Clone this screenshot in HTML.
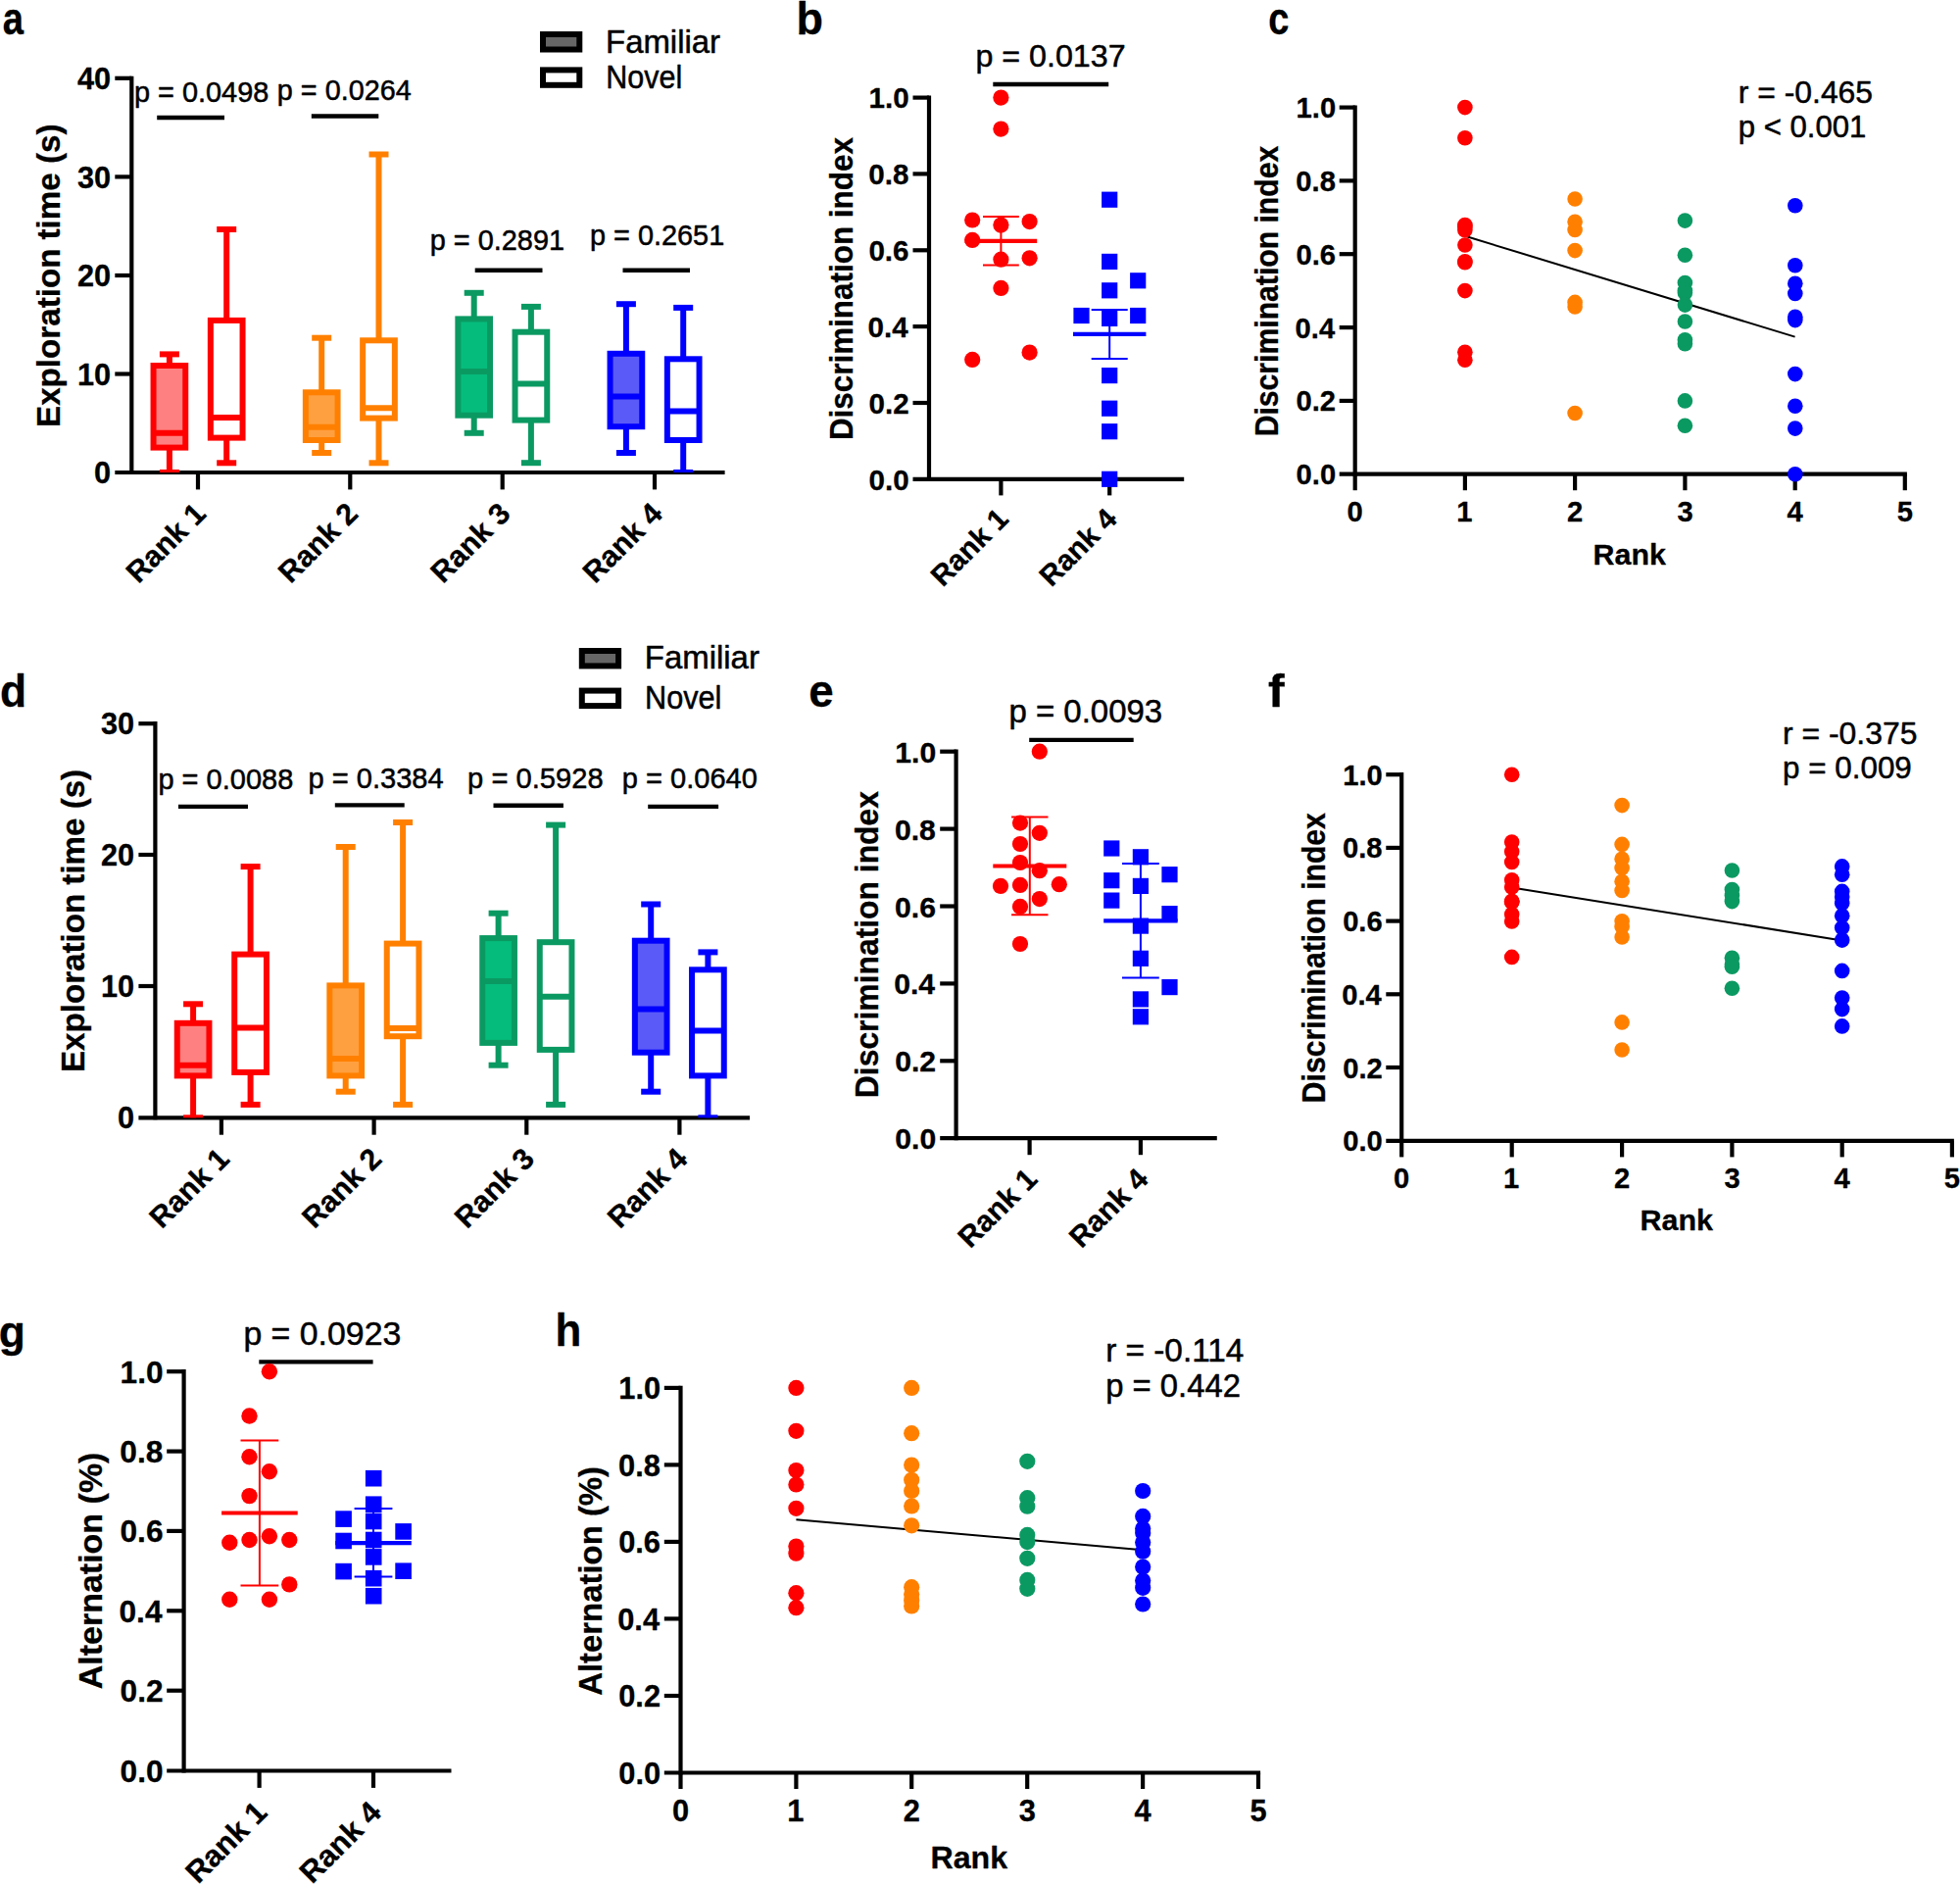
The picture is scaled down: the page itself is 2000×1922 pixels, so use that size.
<!DOCTYPE html>
<html lang="en">
<head>
<meta charset="utf-8">
<title>Figure</title>
<style>
html,body{margin:0;padding:0;background:#fff;}
body{width:2000px;height:1922px;overflow:hidden;}
svg{display:block;}
svg text{font-family:"Liberation Sans",sans-serif;fill:#000;stroke:#000;stroke-width:0.5px;stroke-linejoin:round;}
svg text[font-weight="700"]{stroke-width:0.3px;}
</style>
</head>
<body>
<svg width="2000" height="1922" viewBox="0 0 2000 1922">
<rect x="0" y="0" width="2000" height="1922" fill="#fff"/>
<text font-size="45.8" font-weight="700" textLength="21.31" lengthAdjust="spacingAndGlyphs" x="2.65" y="34.8">a</text>
<line x1="134.3" y1="77.7" x2="134.3" y2="484" stroke="#000" stroke-width="4.2"/>
<line x1="117.3" y1="482" x2="739.6" y2="482" stroke="#000" stroke-width="4.2"/>
<line x1="117.3" y1="79.8" x2="134.3" y2="79.8" stroke="#000" stroke-width="4.2"/>
<line x1="117.3" y1="180.4" x2="134.3" y2="180.4" stroke="#000" stroke-width="4.2"/>
<line x1="117.3" y1="281" x2="134.3" y2="281" stroke="#000" stroke-width="4.2"/>
<line x1="117.3" y1="381.5" x2="134.3" y2="381.5" stroke="#000" stroke-width="4.2"/>
<line x1="202" y1="482" x2="202" y2="499.4" stroke="#000" stroke-width="4.2"/>
<line x1="357.3" y1="482" x2="357.3" y2="499.4" stroke="#000" stroke-width="4.2"/>
<line x1="512.7" y1="482" x2="512.7" y2="499.4" stroke="#000" stroke-width="4.2"/>
<line x1="668" y1="482" x2="668" y2="499.4" stroke="#000" stroke-width="4.2"/>
<text font-size="30.7" font-weight="700" text-anchor="end" x="113.2" y="90.9">40</text>
<text font-size="30.7" font-weight="700" text-anchor="end" x="113.2" y="191.5">30</text>
<text font-size="30.7" font-weight="700" text-anchor="end" x="113.2" y="292.1">20</text>
<text font-size="30.7" font-weight="700" text-anchor="end" x="113.2" y="392.6">10</text>
<text font-size="30.7" font-weight="700" text-anchor="end" x="113.16" y="493.1">0</text>
<text font-size="30.4" font-weight="700" text-anchor="end" transform="translate(211.7 525.8) rotate(-45)">Rank 1</text>
<text font-size="30.4" font-weight="700" text-anchor="end" transform="translate(367 525.8) rotate(-45)">Rank 2</text>
<text font-size="30.4" font-weight="700" text-anchor="end" transform="translate(522.4 525.8) rotate(-45)">Rank 3</text>
<text font-size="30.4" font-weight="700" text-anchor="end" transform="translate(677.7 525.8) rotate(-45)">Rank 4</text>
<text font-size="34" font-weight="700" textLength="309.39" lengthAdjust="spacingAndGlyphs" transform="translate(61 435.94) rotate(-90)">Exploration time (s)</text>
<rect x="554" y="35" width="37.3" height="15.5" fill="#666" stroke="#000" stroke-width="6"/>
<rect x="554" y="71.4" width="37.3" height="15.4" fill="#fff" stroke="#000" stroke-width="6"/>
<text font-size="32.8" textLength="116.93" lengthAdjust="spacingAndGlyphs" x="618.09" y="53.5">Familiar</text>
<text font-size="32.8" textLength="77.95" lengthAdjust="spacingAndGlyphs" x="618.28" y="89.8">Novel</text>
<text font-size="28.89" textLength="137.37" lengthAdjust="spacingAndGlyphs" x="136.92" y="104">p = 0.0498</text>
<text font-size="28.78" textLength="136.82" lengthAdjust="spacingAndGlyphs" x="282.83" y="101.5">p = 0.0264</text>
<text font-size="28.89" textLength="137.36" lengthAdjust="spacingAndGlyphs" x="438.72" y="254.6">p = 0.2891</text>
<text font-size="28.85" textLength="137.16" lengthAdjust="spacingAndGlyphs" x="602.02" y="249.5">p = 0.2651</text>
<line x1="160.2" y1="120" x2="229" y2="120" stroke="#000" stroke-width="4.4"/>
<line x1="317.8" y1="118.5" x2="386.3" y2="118.5" stroke="#000" stroke-width="4.4"/>
<line x1="484.7" y1="275.7" x2="553.5" y2="275.7" stroke="#000" stroke-width="4.4"/>
<line x1="635.5" y1="275.7" x2="704" y2="275.7" stroke="#000" stroke-width="4.4"/>
<line x1="172.9" y1="361.4" x2="172.9" y2="371" stroke="#fe0000" stroke-width="6"/>
<line x1="172.9" y1="458.6" x2="172.9" y2="482" stroke="#fe0000" stroke-width="6"/>
<rect x="162.9" y="479" width="20" height="3" fill="#fe0000"/>
<line x1="162.9" y1="361.4" x2="182.9" y2="361.4" stroke="#fe0000" stroke-width="6"/>
<rect x="156.55" y="373" width="32.7" height="83.6" fill="#ff8080" stroke="#fe0000" stroke-width="6"/>
<line x1="154.55" y1="441.8" x2="191.25" y2="441.8" stroke="#fe0000" stroke-width="6"/>
<line x1="231.2" y1="234" x2="231.2" y2="324.9" stroke="#fe0000" stroke-width="6"/>
<line x1="231.2" y1="448.6" x2="231.2" y2="472.3" stroke="#fe0000" stroke-width="6"/>
<line x1="221.2" y1="472.3" x2="241.2" y2="472.3" stroke="#fe0000" stroke-width="6"/>
<line x1="221.2" y1="234" x2="241.2" y2="234" stroke="#fe0000" stroke-width="6"/>
<rect x="214.85" y="326.9" width="32.7" height="119.7" fill="#fff" stroke="#fe0000" stroke-width="6"/>
<line x1="212.85" y1="426" x2="249.55" y2="426" stroke="#fe0000" stroke-width="6"/>
<line x1="328.2" y1="344.7" x2="328.2" y2="398.3" stroke="#ff8000" stroke-width="6"/>
<line x1="328.2" y1="451" x2="328.2" y2="462" stroke="#ff8000" stroke-width="6"/>
<line x1="318.2" y1="462" x2="338.2" y2="462" stroke="#ff8000" stroke-width="6"/>
<line x1="318.2" y1="344.7" x2="338.2" y2="344.7" stroke="#ff8000" stroke-width="6"/>
<rect x="311.85" y="400.3" width="32.7" height="48.7" fill="#ffa040" stroke="#ff8000" stroke-width="6"/>
<line x1="309.85" y1="435.7" x2="346.55" y2="435.7" stroke="#ff8000" stroke-width="6"/>
<line x1="386.5" y1="157.5" x2="386.5" y2="345.3" stroke="#ff8000" stroke-width="6"/>
<line x1="386.5" y1="428.6" x2="386.5" y2="472.3" stroke="#ff8000" stroke-width="6"/>
<line x1="376.5" y1="472.3" x2="396.5" y2="472.3" stroke="#ff8000" stroke-width="6"/>
<line x1="376.5" y1="157.5" x2="396.5" y2="157.5" stroke="#ff8000" stroke-width="6"/>
<rect x="370.15" y="347.3" width="32.7" height="79.3" fill="#fff" stroke="#ff8000" stroke-width="6"/>
<line x1="368.15" y1="416.3" x2="404.85" y2="416.3" stroke="#ff8000" stroke-width="6"/>
<line x1="483.7" y1="298.8" x2="483.7" y2="323.4" stroke="#0b9962" stroke-width="6"/>
<line x1="483.7" y1="425.7" x2="483.7" y2="441.8" stroke="#0b9962" stroke-width="6"/>
<line x1="473.7" y1="441.8" x2="493.7" y2="441.8" stroke="#0b9962" stroke-width="6"/>
<line x1="473.7" y1="298.8" x2="493.7" y2="298.8" stroke="#0b9962" stroke-width="6"/>
<rect x="467.35" y="325.4" width="32.7" height="98.3" fill="#05bc7c" stroke="#0b9962" stroke-width="6"/>
<line x1="465.35" y1="379" x2="502.05" y2="379" stroke="#0b9962" stroke-width="6"/>
<line x1="541.9" y1="312.9" x2="541.9" y2="336.7" stroke="#0b9962" stroke-width="6"/>
<line x1="541.9" y1="430.6" x2="541.9" y2="472.2" stroke="#0b9962" stroke-width="6"/>
<line x1="531.9" y1="472.2" x2="551.9" y2="472.2" stroke="#0b9962" stroke-width="6"/>
<line x1="531.9" y1="312.9" x2="551.9" y2="312.9" stroke="#0b9962" stroke-width="6"/>
<rect x="525.55" y="338.7" width="32.7" height="89.9" fill="#fff" stroke="#0b9962" stroke-width="6"/>
<line x1="523.55" y1="391.6" x2="560.25" y2="391.6" stroke="#0b9962" stroke-width="6"/>
<line x1="638.9" y1="310.2" x2="638.9" y2="358.8" stroke="#0000fe" stroke-width="6"/>
<line x1="638.9" y1="437.2" x2="638.9" y2="462" stroke="#0000fe" stroke-width="6"/>
<line x1="628.9" y1="462" x2="648.9" y2="462" stroke="#0000fe" stroke-width="6"/>
<line x1="628.9" y1="310.2" x2="648.9" y2="310.2" stroke="#0000fe" stroke-width="6"/>
<rect x="622.55" y="360.8" width="32.7" height="74.4" fill="#5a5af8" stroke="#0000fe" stroke-width="6"/>
<line x1="620.55" y1="404.5" x2="657.25" y2="404.5" stroke="#0000fe" stroke-width="6"/>
<line x1="697.2" y1="313.9" x2="697.2" y2="364.3" stroke="#0000fe" stroke-width="6"/>
<line x1="697.2" y1="451" x2="697.2" y2="482" stroke="#0000fe" stroke-width="6"/>
<rect x="687.2" y="479" width="20" height="3" fill="#0000fe"/>
<line x1="687.2" y1="313.9" x2="707.2" y2="313.9" stroke="#0000fe" stroke-width="6"/>
<rect x="680.85" y="366.3" width="32.7" height="82.7" fill="#fff" stroke="#0000fe" stroke-width="6"/>
<line x1="678.85" y1="419.4" x2="715.55" y2="419.4" stroke="#0000fe" stroke-width="6"/>
<text font-size="46.5" font-weight="700" textLength="27.46" lengthAdjust="spacingAndGlyphs" x="812.38" y="34.9">b</text>
<line x1="948" y1="97.5" x2="948" y2="490.8" stroke="#000" stroke-width="4.2"/>
<line x1="931.5" y1="488.8" x2="1208.2" y2="488.8" stroke="#000" stroke-width="4.2"/>
<line x1="931.5" y1="99.6" x2="948" y2="99.6" stroke="#000" stroke-width="4.2"/>
<line x1="931.5" y1="177.4" x2="948" y2="177.4" stroke="#000" stroke-width="4.2"/>
<line x1="931.5" y1="255.3" x2="948" y2="255.3" stroke="#000" stroke-width="4.2"/>
<line x1="931.5" y1="333.1" x2="948" y2="333.1" stroke="#000" stroke-width="4.2"/>
<line x1="931.5" y1="411" x2="948" y2="411" stroke="#000" stroke-width="4.2"/>
<line x1="1021.4" y1="488.8" x2="1021.4" y2="505.4" stroke="#000" stroke-width="4.2"/>
<line x1="1132.2" y1="488.8" x2="1132.2" y2="505.4" stroke="#000" stroke-width="4.2"/>
<text font-size="29.6" font-weight="700" text-anchor="end" x="927.69" y="110.3">1.0</text>
<text font-size="29.6" font-weight="700" text-anchor="end" x="927.39" y="188.1">0.8</text>
<text font-size="29.6" font-weight="700" text-anchor="end" x="927.54" y="266">0.6</text>
<text font-size="29.6" font-weight="700" text-anchor="end" x="926.65" y="343.8">0.4</text>
<text font-size="29.6" font-weight="700" text-anchor="end" x="927.62" y="421.7">0.2</text>
<text font-size="29.6" font-weight="700" text-anchor="end" x="927.69" y="499.5">0.0</text>
<text font-size="34" font-weight="700" textLength="308.98" lengthAdjust="spacingAndGlyphs" transform="translate(869.6 449.12) rotate(-90)">Discrimination index</text>
<text font-size="32.19" textLength="153.07" lengthAdjust="spacingAndGlyphs" x="995.51" y="67.9">p = 0.0137</text>
<line x1="1013.3" y1="86" x2="1131.2" y2="86" stroke="#000" stroke-width="4.4"/>
<line x1="984.6" y1="245.9" x2="1058.2" y2="245.9" stroke="#fe0000" stroke-width="4.2"/>
<line x1="1021.4" y1="221" x2="1021.4" y2="270.6" stroke="#fe0000" stroke-width="2"/>
<line x1="1003" y1="221" x2="1039.8" y2="221" stroke="#fe0000" stroke-width="2"/>
<line x1="1003" y1="270.6" x2="1039.8" y2="270.6" stroke="#fe0000" stroke-width="2"/>
<circle cx="1021.4" cy="99.6" r="8.1" fill="#fe0000"/>
<circle cx="1021.4" cy="131.6" r="8.1" fill="#fe0000"/>
<circle cx="992.2" cy="224.5" r="8.1" fill="#fe0000"/>
<circle cx="1021.4" cy="229.6" r="8.1" fill="#fe0000"/>
<circle cx="1050.6" cy="226.1" r="8.1" fill="#fe0000"/>
<circle cx="992.2" cy="244.9" r="8.1" fill="#fe0000"/>
<circle cx="1021.4" cy="264.7" r="8.1" fill="#fe0000"/>
<circle cx="1050.6" cy="263.3" r="8.1" fill="#fe0000"/>
<circle cx="1021.4" cy="293.9" r="8.1" fill="#fe0000"/>
<circle cx="992.2" cy="366.9" r="8.1" fill="#fe0000"/>
<circle cx="1050.6" cy="359.6" r="8.1" fill="#fe0000"/>
<rect x="1124.1" y="195.6" width="16.2" height="16.2" fill="#0000fe"/>
<rect x="1124.1" y="258.8" width="16.2" height="16.2" fill="#0000fe"/>
<rect x="1153.1" y="278.2" width="16.2" height="16.2" fill="#0000fe"/>
<rect x="1124.1" y="288.2" width="16.2" height="16.2" fill="#0000fe"/>
<rect x="1095.4" y="313.9" width="16.2" height="16.2" fill="#0000fe"/>
<rect x="1124.1" y="316.8" width="16.2" height="16.2" fill="#0000fe"/>
<rect x="1153.1" y="313.9" width="16.2" height="16.2" fill="#0000fe"/>
<rect x="1124.1" y="375" width="16.2" height="16.2" fill="#0000fe"/>
<rect x="1124.1" y="408.6" width="16.2" height="16.2" fill="#0000fe"/>
<rect x="1124.1" y="432.1" width="16.2" height="16.2" fill="#0000fe"/>
<rect x="1124.1" y="480.7" width="16.2" height="16.2" fill="#0000fe"/>
<line x1="1095" y1="340.8" x2="1169.4" y2="340.8" stroke="#0000fe" stroke-width="4.2"/>
<line x1="1132.2" y1="315.9" x2="1132.2" y2="366.1" stroke="#0000fe" stroke-width="2"/>
<line x1="1113.7" y1="315.9" x2="1150.7" y2="315.9" stroke="#0000fe" stroke-width="2"/>
<line x1="1113.7" y1="366.1" x2="1150.7" y2="366.1" stroke="#0000fe" stroke-width="2"/>
<text font-size="29.6" font-weight="700" text-anchor="end" transform="translate(1030.6 531.1) rotate(-45)">Rank 1</text>
<text font-size="29.6" font-weight="700" text-anchor="end" transform="translate(1141.4 531.1) rotate(-45)">Rank 4</text>
<text font-size="45.8" font-weight="700" textLength="21.11" lengthAdjust="spacingAndGlyphs" x="1294.28" y="34.8">c</text>
<line x1="1382.7" y1="107.5" x2="1382.7" y2="485.7" stroke="#000" stroke-width="4.2"/>
<line x1="1366.7" y1="483.7" x2="1945.9" y2="483.7" stroke="#000" stroke-width="4.2"/>
<line x1="1366.7" y1="109.6" x2="1382.7" y2="109.6" stroke="#000" stroke-width="4.2"/>
<line x1="1366.7" y1="184.4" x2="1382.7" y2="184.4" stroke="#000" stroke-width="4.2"/>
<line x1="1366.7" y1="259.2" x2="1382.7" y2="259.2" stroke="#000" stroke-width="4.2"/>
<line x1="1366.7" y1="334.1" x2="1382.7" y2="334.1" stroke="#000" stroke-width="4.2"/>
<line x1="1366.7" y1="408.9" x2="1382.7" y2="408.9" stroke="#000" stroke-width="4.2"/>
<line x1="1382.7" y1="483.7" x2="1382.7" y2="500.2" stroke="#000" stroke-width="4.2"/>
<line x1="1494.9" y1="483.7" x2="1494.9" y2="500.2" stroke="#000" stroke-width="4.2"/>
<line x1="1607.1" y1="483.7" x2="1607.1" y2="500.2" stroke="#000" stroke-width="4.2"/>
<line x1="1719.4" y1="483.7" x2="1719.4" y2="500.2" stroke="#000" stroke-width="4.2"/>
<line x1="1831.7" y1="483.7" x2="1831.7" y2="500.2" stroke="#000" stroke-width="4.2"/>
<line x1="1943.8" y1="483.7" x2="1943.8" y2="500.2" stroke="#000" stroke-width="4.2"/>
<text font-size="29.2" font-weight="700" text-anchor="end" x="1363.17" y="120.1">1.0</text>
<text font-size="29.2" font-weight="700" text-anchor="end" x="1362.88" y="194.9">0.8</text>
<text font-size="29.2" font-weight="700" text-anchor="end" x="1363.03" y="269.7">0.6</text>
<text font-size="29.2" font-weight="700" text-anchor="end" x="1362.15" y="344.6">0.4</text>
<text font-size="29.2" font-weight="700" text-anchor="end" x="1363.1" y="419.4">0.2</text>
<text font-size="29.2" font-weight="700" text-anchor="end" x="1363.17" y="494.2">0.0</text>
<text font-size="29.2" font-weight="700" text-anchor="middle" x="1382.72" y="531.5">0</text>
<text font-size="29.2" font-weight="700" text-anchor="middle" x="1494.41" y="531.5">1</text>
<text font-size="29.2" font-weight="700" text-anchor="middle" x="1607.15" y="531.5">2</text>
<text font-size="29.2" font-weight="700" text-anchor="middle" x="1719.6" y="531.5">3</text>
<text font-size="29.2" font-weight="700" text-anchor="middle" x="1831.57" y="531.5">4</text>
<text font-size="29.2" font-weight="700" text-anchor="middle" x="1943.78" y="531.5">5</text>
<text font-size="33" font-weight="700" textLength="296.59" lengthAdjust="spacingAndGlyphs" transform="translate(1304.3 445.34) rotate(-90)">Discrimination index</text>
<line x1="1494.9" y1="240.8" x2="1831.6" y2="343.6" stroke="#000" stroke-width="2"/>
<circle cx="1494.9" cy="109.6" r="7.8" fill="#fe0000"/>
<circle cx="1494.9" cy="140.8" r="7.8" fill="#fe0000"/>
<circle cx="1494.9" cy="229.6" r="7.8" fill="#fe0000"/>
<circle cx="1494.9" cy="231.5" r="7.8" fill="#fe0000"/>
<circle cx="1494.9" cy="234.7" r="7.8" fill="#fe0000"/>
<circle cx="1494.9" cy="250" r="7.8" fill="#fe0000"/>
<circle cx="1494.9" cy="267.8" r="7.8" fill="#fe0000"/>
<circle cx="1494.9" cy="266.8" r="7.8" fill="#fe0000"/>
<circle cx="1494.9" cy="296.6" r="7.8" fill="#fe0000"/>
<circle cx="1494.9" cy="359.2" r="7.8" fill="#fe0000"/>
<circle cx="1494.9" cy="367.3" r="7.8" fill="#fe0000"/>
<circle cx="1607.1" cy="203" r="7.8" fill="#ff8000"/>
<circle cx="1607.1" cy="226.3" r="7.8" fill="#ff8000"/>
<circle cx="1607.1" cy="234.5" r="7.8" fill="#ff8000"/>
<circle cx="1607.1" cy="255.6" r="7.8" fill="#ff8000"/>
<circle cx="1607.1" cy="308.4" r="7.8" fill="#ff8000"/>
<circle cx="1607.1" cy="313" r="7.8" fill="#ff8000"/>
<circle cx="1607.1" cy="421.5" r="7.8" fill="#ff8000"/>
<circle cx="1719.4" cy="225.1" r="7.8" fill="#0b9962"/>
<circle cx="1719.4" cy="260.2" r="7.8" fill="#0b9962"/>
<circle cx="1719.4" cy="288.5" r="7.8" fill="#0b9962"/>
<circle cx="1719.4" cy="296.5" r="7.8" fill="#0b9962"/>
<circle cx="1719.4" cy="298.8" r="7.8" fill="#0b9962"/>
<circle cx="1719.4" cy="311.1" r="7.8" fill="#0b9962"/>
<circle cx="1719.4" cy="328" r="7.8" fill="#0b9962"/>
<circle cx="1719.4" cy="346.8" r="7.8" fill="#0b9962"/>
<circle cx="1719.4" cy="350.8" r="7.8" fill="#0b9962"/>
<circle cx="1719.4" cy="408.9" r="7.8" fill="#0b9962"/>
<circle cx="1719.4" cy="434.2" r="7.8" fill="#0b9962"/>
<circle cx="1831.8" cy="209.7" r="7.8" fill="#0000fe"/>
<circle cx="1831.8" cy="270.8" r="7.8" fill="#0000fe"/>
<circle cx="1831.8" cy="289.3" r="7.8" fill="#0000fe"/>
<circle cx="1831.8" cy="299.4" r="7.8" fill="#0000fe"/>
<circle cx="1831.8" cy="323.3" r="7.8" fill="#0000fe"/>
<circle cx="1831.8" cy="326.6" r="7.8" fill="#0000fe"/>
<circle cx="1831.8" cy="381.6" r="7.8" fill="#0000fe"/>
<circle cx="1831.8" cy="414.3" r="7.8" fill="#0000fe"/>
<circle cx="1831.8" cy="437.1" r="7.8" fill="#0000fe"/>
<circle cx="1831.8" cy="483.7" r="7.8" fill="#0000fe"/>
<text font-size="31.89" textLength="137.37" lengthAdjust="spacingAndGlyphs" x="1773.73" y="104.6">r = -0.465</text>
<text font-size="31.12" textLength="130.67" lengthAdjust="spacingAndGlyphs" x="1773.78" y="140.3">p &lt; 0.001</text>
<text font-size="30.4" font-weight="700" textLength="74.39" lengthAdjust="spacingAndGlyphs" x="1625.55" y="575.5">Rank</text>
<text font-size="46.5" font-weight="700" textLength="27.1" lengthAdjust="spacingAndGlyphs" x="0.03" y="720.6">d</text>
<line x1="158.4" y1="736" x2="158.4" y2="1142.3" stroke="#000" stroke-width="4.2"/>
<line x1="141.4" y1="1140.3" x2="765.1" y2="1140.3" stroke="#000" stroke-width="4.2"/>
<line x1="141.4" y1="738.2" x2="158.4" y2="738.2" stroke="#000" stroke-width="4.2"/>
<line x1="141.4" y1="872" x2="158.4" y2="872" stroke="#000" stroke-width="4.2"/>
<line x1="141.4" y1="1006" x2="158.4" y2="1006" stroke="#000" stroke-width="4.2"/>
<line x1="225.9" y1="1140.3" x2="225.9" y2="1157.7" stroke="#000" stroke-width="4.2"/>
<line x1="381.6" y1="1140.3" x2="381.6" y2="1157.7" stroke="#000" stroke-width="4.2"/>
<line x1="537.3" y1="1140.3" x2="537.3" y2="1157.7" stroke="#000" stroke-width="4.2"/>
<line x1="693.4" y1="1140.3" x2="693.4" y2="1157.7" stroke="#000" stroke-width="4.2"/>
<text font-size="30.7" font-weight="700" text-anchor="end" x="137.1" y="749.3">30</text>
<text font-size="30.7" font-weight="700" text-anchor="end" x="137.1" y="883.1">20</text>
<text font-size="30.7" font-weight="700" text-anchor="end" x="137.1" y="1017.1">10</text>
<text font-size="30.7" font-weight="700" text-anchor="end" x="137.06" y="1151.4">0</text>
<text font-size="30.4" font-weight="700" text-anchor="end" transform="translate(235.6 1184.1) rotate(-45)">Rank 1</text>
<text font-size="30.4" font-weight="700" text-anchor="end" transform="translate(391.3 1184.1) rotate(-45)">Rank 2</text>
<text font-size="30.4" font-weight="700" text-anchor="end" transform="translate(547 1184.1) rotate(-45)">Rank 3</text>
<text font-size="30.4" font-weight="700" text-anchor="end" transform="translate(703.1 1184.1) rotate(-45)">Rank 4</text>
<text font-size="34" font-weight="700" textLength="309.18" lengthAdjust="spacingAndGlyphs" transform="translate(85.9 1094.04) rotate(-90)">Exploration time (s)</text>
<rect x="593.8" y="664" width="37.3" height="15.4" fill="#666" stroke="#000" stroke-width="6"/>
<rect x="593.8" y="704.6" width="37.3" height="15.5" fill="#fff" stroke="#000" stroke-width="6"/>
<text font-size="32.8" textLength="117.14" lengthAdjust="spacingAndGlyphs" x="657.78" y="682.4">Familiar</text>
<text font-size="32.8" textLength="78.48" lengthAdjust="spacingAndGlyphs" x="657.97" y="723.1">Novel</text>
<text font-size="29" textLength="137.88" lengthAdjust="spacingAndGlyphs" x="161.42" y="805.2">p = 0.0088</text>
<text font-size="29.08" textLength="138.25" lengthAdjust="spacingAndGlyphs" x="314.41" y="803.8">p = 0.3384</text>
<text font-size="29.13" textLength="138.49" lengthAdjust="spacingAndGlyphs" x="477.11" y="804.4">p = 0.5928</text>
<text font-size="29.05" textLength="138.14" lengthAdjust="spacingAndGlyphs" x="634.81" y="804.4">p = 0.0640</text>
<line x1="182" y1="822.9" x2="253" y2="822.9" stroke="#000" stroke-width="4.4"/>
<line x1="341.8" y1="821.4" x2="412.7" y2="821.4" stroke="#000" stroke-width="4.4"/>
<line x1="503.5" y1="821.8" x2="574.9" y2="821.8" stroke="#000" stroke-width="4.4"/>
<line x1="661.2" y1="822.9" x2="733.1" y2="822.9" stroke="#000" stroke-width="4.4"/>
<line x1="197.1" y1="1024.3" x2="197.1" y2="1041.8" stroke="#fe0000" stroke-width="6"/>
<line x1="197.1" y1="1099.4" x2="197.1" y2="1140.3" stroke="#fe0000" stroke-width="6"/>
<rect x="187.1" y="1137.3" width="20" height="3" fill="#fe0000"/>
<line x1="187.1" y1="1024.3" x2="207.1" y2="1024.3" stroke="#fe0000" stroke-width="6"/>
<rect x="180.75" y="1043.8" width="32.7" height="53.6" fill="#ff8080" stroke="#fe0000" stroke-width="6"/>
<line x1="178.75" y1="1086.7" x2="215.45" y2="1086.7" stroke="#fe0000" stroke-width="6"/>
<line x1="255.6" y1="884.1" x2="255.6" y2="971.6" stroke="#fe0000" stroke-width="6"/>
<line x1="255.6" y1="1095.9" x2="255.6" y2="1126.9" stroke="#fe0000" stroke-width="6"/>
<line x1="245.6" y1="1126.9" x2="265.6" y2="1126.9" stroke="#fe0000" stroke-width="6"/>
<line x1="245.6" y1="884.1" x2="265.6" y2="884.1" stroke="#fe0000" stroke-width="6"/>
<rect x="239.25" y="973.6" width="32.7" height="120.3" fill="#fff" stroke="#fe0000" stroke-width="6"/>
<line x1="237.25" y1="1048.6" x2="273.95" y2="1048.6" stroke="#fe0000" stroke-width="6"/>
<line x1="352.7" y1="864" x2="352.7" y2="1003.4" stroke="#ff8000" stroke-width="6"/>
<line x1="352.7" y1="1099.4" x2="352.7" y2="1113.7" stroke="#ff8000" stroke-width="6"/>
<line x1="342.7" y1="1113.7" x2="362.7" y2="1113.7" stroke="#ff8000" stroke-width="6"/>
<line x1="342.7" y1="864" x2="362.7" y2="864" stroke="#ff8000" stroke-width="6"/>
<rect x="336.35" y="1005.4" width="32.7" height="92" fill="#ffa040" stroke="#ff8000" stroke-width="6"/>
<line x1="334.35" y1="1080" x2="371.05" y2="1080" stroke="#ff8000" stroke-width="6"/>
<line x1="411.1" y1="839" x2="411.1" y2="960.6" stroke="#ff8000" stroke-width="6"/>
<line x1="411.1" y1="1059.2" x2="411.1" y2="1126.9" stroke="#ff8000" stroke-width="6"/>
<line x1="401.1" y1="1126.9" x2="421.1" y2="1126.9" stroke="#ff8000" stroke-width="6"/>
<line x1="401.1" y1="839" x2="421.1" y2="839" stroke="#ff8000" stroke-width="6"/>
<rect x="394.75" y="962.6" width="32.7" height="94.6" fill="#fff" stroke="#ff8000" stroke-width="6"/>
<line x1="392.75" y1="1049" x2="429.45" y2="1049" stroke="#ff8000" stroke-width="6"/>
<line x1="508.6" y1="931.7" x2="508.6" y2="955.1" stroke="#0b9962" stroke-width="6"/>
<line x1="508.6" y1="1065.9" x2="508.6" y2="1086.7" stroke="#0b9962" stroke-width="6"/>
<line x1="498.6" y1="1086.7" x2="518.6" y2="1086.7" stroke="#0b9962" stroke-width="6"/>
<line x1="498.6" y1="931.7" x2="518.6" y2="931.7" stroke="#0b9962" stroke-width="6"/>
<rect x="492.25" y="957.1" width="32.7" height="106.8" fill="#05bc7c" stroke="#0b9962" stroke-width="6"/>
<line x1="490.25" y1="1001" x2="526.95" y2="1001" stroke="#0b9962" stroke-width="6"/>
<line x1="567.1" y1="841.6" x2="567.1" y2="959.2" stroke="#0b9962" stroke-width="6"/>
<line x1="567.1" y1="1072.9" x2="567.1" y2="1126.9" stroke="#0b9962" stroke-width="6"/>
<line x1="557.1" y1="1126.9" x2="577.1" y2="1126.9" stroke="#0b9962" stroke-width="6"/>
<line x1="557.1" y1="841.6" x2="577.1" y2="841.6" stroke="#0b9962" stroke-width="6"/>
<rect x="550.75" y="961.2" width="32.7" height="109.7" fill="#fff" stroke="#0b9962" stroke-width="6"/>
<line x1="548.75" y1="1016.7" x2="585.45" y2="1016.7" stroke="#0b9962" stroke-width="6"/>
<line x1="664.2" y1="922.5" x2="664.2" y2="957.7" stroke="#0000fe" stroke-width="6"/>
<line x1="664.2" y1="1075.7" x2="664.2" y2="1113.7" stroke="#0000fe" stroke-width="6"/>
<line x1="654.2" y1="1113.7" x2="674.2" y2="1113.7" stroke="#0000fe" stroke-width="6"/>
<line x1="654.2" y1="922.5" x2="674.2" y2="922.5" stroke="#0000fe" stroke-width="6"/>
<rect x="647.85" y="959.7" width="32.7" height="114" fill="#5a5af8" stroke="#0000fe" stroke-width="6"/>
<line x1="645.85" y1="1029.6" x2="682.55" y2="1029.6" stroke="#0000fe" stroke-width="6"/>
<line x1="722.4" y1="971.4" x2="722.4" y2="987.3" stroke="#0000fe" stroke-width="6"/>
<line x1="722.4" y1="1099.4" x2="722.4" y2="1140.3" stroke="#0000fe" stroke-width="6"/>
<rect x="712.4" y="1137.3" width="20" height="3" fill="#0000fe"/>
<line x1="712.4" y1="971.4" x2="732.4" y2="971.4" stroke="#0000fe" stroke-width="6"/>
<rect x="706.05" y="989.3" width="32.7" height="108.1" fill="#fff" stroke="#0000fe" stroke-width="6"/>
<line x1="704.05" y1="1051.4" x2="740.75" y2="1051.4" stroke="#0000fe" stroke-width="6"/>
<text font-size="45.8" font-weight="700" textLength="25.47" lengthAdjust="spacingAndGlyphs" x="825.27" y="720.5">e</text>
<line x1="975.6" y1="764.6" x2="975.6" y2="1163.2" stroke="#000" stroke-width="4.2"/>
<line x1="959.2" y1="1161.2" x2="1241.8" y2="1161.2" stroke="#000" stroke-width="4.2"/>
<line x1="959.2" y1="766.7" x2="975.6" y2="766.7" stroke="#000" stroke-width="4.2"/>
<line x1="959.2" y1="845.6" x2="975.6" y2="845.6" stroke="#000" stroke-width="4.2"/>
<line x1="959.2" y1="924.5" x2="975.6" y2="924.5" stroke="#000" stroke-width="4.2"/>
<line x1="959.2" y1="1003.4" x2="975.6" y2="1003.4" stroke="#000" stroke-width="4.2"/>
<line x1="959.2" y1="1082.3" x2="975.6" y2="1082.3" stroke="#000" stroke-width="4.2"/>
<line x1="1050.6" y1="1161.2" x2="1050.6" y2="1178.2" stroke="#000" stroke-width="4.2"/>
<line x1="1163.9" y1="1161.2" x2="1163.9" y2="1178.2" stroke="#000" stroke-width="4.2"/>
<text font-size="30.2" font-weight="700" text-anchor="end" x="955.21" y="777.7">1.0</text>
<text font-size="30.2" font-weight="700" text-anchor="end" x="954.91" y="856.6">0.8</text>
<text font-size="30.2" font-weight="700" text-anchor="end" x="955.06" y="935.5">0.6</text>
<text font-size="30.2" font-weight="700" text-anchor="end" x="954.16" y="1014.4">0.4</text>
<text font-size="30.2" font-weight="700" text-anchor="end" x="955.14" y="1093.3">0.2</text>
<text font-size="30.2" font-weight="700" text-anchor="end" x="955.21" y="1172.2">0.0</text>
<text font-size="34" font-weight="700" textLength="313.11" lengthAdjust="spacingAndGlyphs" transform="translate(895.7 1120.15) rotate(-90)">Discrimination index</text>
<text font-size="32.96" textLength="156.71" lengthAdjust="spacingAndGlyphs" x="1029.46" y="736.6">p = 0.0093</text>
<line x1="1050.2" y1="754.9" x2="1156.7" y2="754.9" stroke="#000" stroke-width="4.4"/>
<circle cx="1060.8" cy="766.7" r="8.1" fill="#fe0000"/>
<circle cx="1041" cy="839.6" r="8.1" fill="#fe0000"/>
<circle cx="1060.8" cy="849.8" r="8.1" fill="#fe0000"/>
<circle cx="1041" cy="861" r="8.1" fill="#fe0000"/>
<circle cx="1041" cy="880" r="8.1" fill="#fe0000"/>
<circle cx="1060.8" cy="888.2" r="8.1" fill="#fe0000"/>
<circle cx="1021" cy="903.9" r="8.1" fill="#fe0000"/>
<circle cx="1041" cy="902.9" r="8.1" fill="#fe0000"/>
<circle cx="1080.8" cy="902.2" r="8.1" fill="#fe0000"/>
<circle cx="1060.8" cy="917.1" r="8.1" fill="#fe0000"/>
<circle cx="1041" cy="924.9" r="8.1" fill="#fe0000"/>
<circle cx="1041" cy="963" r="8.1" fill="#fe0000"/>
<line x1="1013.3" y1="883.5" x2="1088.3" y2="883.5" stroke="#fe0000" stroke-width="4.2"/>
<line x1="1050.8" y1="833.5" x2="1050.8" y2="933.2" stroke="#fe0000" stroke-width="2"/>
<line x1="1032.1" y1="833.5" x2="1069.5" y2="833.5" stroke="#fe0000" stroke-width="2"/>
<line x1="1032.1" y1="933.2" x2="1069.5" y2="933.2" stroke="#fe0000" stroke-width="2"/>
<rect x="1126.2" y="857.4" width="16.2" height="16.2" fill="#0000fe"/>
<rect x="1155.8" y="866.2" width="16.2" height="16.2" fill="#0000fe"/>
<rect x="1185.4" y="884.1" width="16.2" height="16.2" fill="#0000fe"/>
<rect x="1126.2" y="890.1" width="16.2" height="16.2" fill="#0000fe"/>
<rect x="1155.8" y="895.8" width="16.2" height="16.2" fill="#0000fe"/>
<rect x="1126.2" y="910.5" width="16.2" height="16.2" fill="#0000fe"/>
<rect x="1185.4" y="924" width="16.2" height="16.2" fill="#0000fe"/>
<rect x="1155.8" y="936.5" width="16.2" height="16.2" fill="#0000fe"/>
<rect x="1155.8" y="969.7" width="16.2" height="16.2" fill="#0000fe"/>
<rect x="1185.4" y="999" width="16.2" height="16.2" fill="#0000fe"/>
<rect x="1155.8" y="1011.3" width="16.2" height="16.2" fill="#0000fe"/>
<rect x="1155.8" y="1029.2" width="16.2" height="16.2" fill="#0000fe"/>
<line x1="1126.2" y1="939.4" x2="1201.6" y2="939.4" stroke="#0000fe" stroke-width="4.2"/>
<line x1="1163.9" y1="881" x2="1163.9" y2="997.6" stroke="#0000fe" stroke-width="2"/>
<line x1="1145" y1="881" x2="1182.8" y2="881" stroke="#0000fe" stroke-width="2"/>
<line x1="1145" y1="997.6" x2="1182.8" y2="997.6" stroke="#0000fe" stroke-width="2"/>
<text font-size="30.2" font-weight="700" text-anchor="end" transform="translate(1060.1 1204.5) rotate(-45)">Rank 1</text>
<text font-size="30.2" font-weight="700" text-anchor="end" transform="translate(1173.4 1204.5) rotate(-45)">Rank 4</text>
<text font-size="46.5" font-weight="700" textLength="16.68" lengthAdjust="spacingAndGlyphs" x="1294.12" y="720.5">f</text>
<line x1="1430.2" y1="788.1" x2="1430.2" y2="1165.9" stroke="#000" stroke-width="4.2"/>
<line x1="1414.3" y1="1163.9" x2="1993.9" y2="1163.9" stroke="#000" stroke-width="4.2"/>
<line x1="1414.3" y1="790.2" x2="1430.2" y2="790.2" stroke="#000" stroke-width="4.2"/>
<line x1="1414.3" y1="864.9" x2="1430.2" y2="864.9" stroke="#000" stroke-width="4.2"/>
<line x1="1414.3" y1="939.6" x2="1430.2" y2="939.6" stroke="#000" stroke-width="4.2"/>
<line x1="1414.3" y1="1014.3" x2="1430.2" y2="1014.3" stroke="#000" stroke-width="4.2"/>
<line x1="1414.3" y1="1089" x2="1430.2" y2="1089" stroke="#000" stroke-width="4.2"/>
<line x1="1430.2" y1="1163.9" x2="1430.2" y2="1180.4" stroke="#000" stroke-width="4.2"/>
<line x1="1542.7" y1="1163.9" x2="1542.7" y2="1180.4" stroke="#000" stroke-width="4.2"/>
<line x1="1655.1" y1="1163.9" x2="1655.1" y2="1180.4" stroke="#000" stroke-width="4.2"/>
<line x1="1767.4" y1="1163.9" x2="1767.4" y2="1180.4" stroke="#000" stroke-width="4.2"/>
<line x1="1879.7" y1="1163.9" x2="1879.7" y2="1180.4" stroke="#000" stroke-width="4.2"/>
<line x1="1991.9" y1="1163.9" x2="1991.9" y2="1180.4" stroke="#000" stroke-width="4.2"/>
<text font-size="29.2" font-weight="700" text-anchor="end" x="1410.87" y="800.7">1.0</text>
<text font-size="29.2" font-weight="700" text-anchor="end" x="1410.58" y="875.4">0.8</text>
<text font-size="29.2" font-weight="700" text-anchor="end" x="1410.73" y="950.1">0.6</text>
<text font-size="29.2" font-weight="700" text-anchor="end" x="1409.85" y="1024.8">0.4</text>
<text font-size="29.2" font-weight="700" text-anchor="end" x="1410.8" y="1099.5">0.2</text>
<text font-size="29.2" font-weight="700" text-anchor="end" x="1410.87" y="1174.4">0.0</text>
<text font-size="29.2" font-weight="700" text-anchor="middle" x="1430.22" y="1211.7">0</text>
<text font-size="29.2" font-weight="700" text-anchor="middle" x="1542.21" y="1211.7">1</text>
<text font-size="29.2" font-weight="700" text-anchor="middle" x="1655.15" y="1211.7">2</text>
<text font-size="29.2" font-weight="700" text-anchor="middle" x="1767.6" y="1211.7">3</text>
<text font-size="29.2" font-weight="700" text-anchor="middle" x="1879.57" y="1211.7">4</text>
<text font-size="29.2" font-weight="700" text-anchor="middle" x="1991.88" y="1211.7">5</text>
<text font-size="33" font-weight="700" textLength="295.98" lengthAdjust="spacingAndGlyphs" transform="translate(1351.6 1125.13) rotate(-90)">Discrimination index</text>
<line x1="1542.7" y1="905.5" x2="1879.7" y2="959.4" stroke="#000" stroke-width="2"/>
<circle cx="1542.7" cy="790.2" r="7.8" fill="#fe0000"/>
<circle cx="1542.7" cy="859" r="7.8" fill="#fe0000"/>
<circle cx="1542.7" cy="868.8" r="7.8" fill="#fe0000"/>
<circle cx="1542.7" cy="879.4" r="7.8" fill="#fe0000"/>
<circle cx="1542.7" cy="897.8" r="7.8" fill="#fe0000"/>
<circle cx="1542.7" cy="904.9" r="7.8" fill="#fe0000"/>
<circle cx="1542.7" cy="919.2" r="7.8" fill="#fe0000"/>
<circle cx="1542.7" cy="920" r="7.8" fill="#fe0000"/>
<circle cx="1542.7" cy="920.6" r="7.8" fill="#fe0000"/>
<circle cx="1542.7" cy="932.8" r="7.8" fill="#fe0000"/>
<circle cx="1542.7" cy="940" r="7.8" fill="#fe0000"/>
<circle cx="1542.7" cy="976.4" r="7.8" fill="#fe0000"/>
<circle cx="1655.1" cy="821.6" r="7.8" fill="#ff8000"/>
<circle cx="1655.1" cy="861.4" r="7.8" fill="#ff8000"/>
<circle cx="1655.1" cy="876.3" r="7.8" fill="#ff8000"/>
<circle cx="1655.1" cy="885.5" r="7.8" fill="#ff8000"/>
<circle cx="1655.1" cy="899.2" r="7.8" fill="#ff8000"/>
<circle cx="1655.1" cy="908.4" r="7.8" fill="#ff8000"/>
<circle cx="1655.1" cy="939.8" r="7.8" fill="#ff8000"/>
<circle cx="1655.1" cy="945.6" r="7.8" fill="#ff8000"/>
<circle cx="1655.1" cy="956" r="7.8" fill="#ff8000"/>
<circle cx="1655.1" cy="1042.9" r="7.8" fill="#ff8000"/>
<circle cx="1655.1" cy="1071" r="7.8" fill="#ff8000"/>
<circle cx="1767.4" cy="888" r="7.8" fill="#0b9962"/>
<circle cx="1767.4" cy="907.6" r="7.8" fill="#0b9962"/>
<circle cx="1767.4" cy="913.5" r="7.8" fill="#0b9962"/>
<circle cx="1767.4" cy="919.6" r="7.8" fill="#0b9962"/>
<circle cx="1767.4" cy="977.2" r="7.8" fill="#0b9962"/>
<circle cx="1767.4" cy="984" r="7.8" fill="#0b9962"/>
<circle cx="1767.4" cy="986.3" r="7.8" fill="#0b9962"/>
<circle cx="1767.4" cy="1008.2" r="7.8" fill="#0b9962"/>
<circle cx="1879.7" cy="883.9" r="7.8" fill="#0000fe"/>
<circle cx="1879.7" cy="892.2" r="7.8" fill="#0000fe"/>
<circle cx="1879.7" cy="909.4" r="7.8" fill="#0000fe"/>
<circle cx="1879.7" cy="915.1" r="7.8" fill="#0000fe"/>
<circle cx="1879.7" cy="921.4" r="7.8" fill="#0000fe"/>
<circle cx="1879.7" cy="934.2" r="7.8" fill="#0000fe"/>
<circle cx="1879.7" cy="946.6" r="7.8" fill="#0000fe"/>
<circle cx="1879.7" cy="959.1" r="7.8" fill="#0000fe"/>
<circle cx="1879.7" cy="990.4" r="7.8" fill="#0000fe"/>
<circle cx="1879.7" cy="1018" r="7.8" fill="#0000fe"/>
<circle cx="1879.7" cy="1029.6" r="7.8" fill="#0000fe"/>
<circle cx="1879.7" cy="1046.9" r="7.8" fill="#0000fe"/>
<text font-size="31.89" textLength="137.37" lengthAdjust="spacingAndGlyphs" x="1819.03" y="758.7">r = -0.375</text>
<text font-size="31.39" textLength="131.78" lengthAdjust="spacingAndGlyphs" x="1819.06" y="793.9">p = 0.009</text>
<text font-size="30.4" font-weight="700" textLength="74.59" lengthAdjust="spacingAndGlyphs" x="1673.44" y="1255.3">Rank</text>
<text font-size="43.9" font-weight="700" textLength="27.1" lengthAdjust="spacingAndGlyphs" x="-1.17" y="1373.8">g</text>
<line x1="187.6" y1="1397.1" x2="187.6" y2="1808.5" stroke="#000" stroke-width="4.2"/>
<line x1="170.2" y1="1806.5" x2="460.5" y2="1806.5" stroke="#000" stroke-width="4.2"/>
<line x1="170.2" y1="1399.2" x2="187.6" y2="1399.2" stroke="#000" stroke-width="4.2"/>
<line x1="170.2" y1="1480.6" x2="187.6" y2="1480.6" stroke="#000" stroke-width="4.2"/>
<line x1="170.2" y1="1561.9" x2="187.6" y2="1561.9" stroke="#000" stroke-width="4.2"/>
<line x1="170.2" y1="1643.3" x2="187.6" y2="1643.3" stroke="#000" stroke-width="4.2"/>
<line x1="170.2" y1="1724.7" x2="187.6" y2="1724.7" stroke="#000" stroke-width="4.2"/>
<line x1="264.6" y1="1806.5" x2="264.6" y2="1823.9" stroke="#000" stroke-width="4.2"/>
<line x1="381" y1="1806.5" x2="381" y2="1823.9" stroke="#000" stroke-width="4.2"/>
<text font-size="31.7" font-weight="700" text-anchor="end" x="166.67" y="1410.7">1.0</text>
<text font-size="31.7" font-weight="700" text-anchor="end" x="166.36" y="1492.1">0.8</text>
<text font-size="31.7" font-weight="700" text-anchor="end" x="166.52" y="1573.4">0.6</text>
<text font-size="31.7" font-weight="700" text-anchor="end" x="165.56" y="1654.8">0.4</text>
<text font-size="31.7" font-weight="700" text-anchor="end" x="166.59" y="1736.2">0.2</text>
<text font-size="31.7" font-weight="700" text-anchor="end" x="166.67" y="1818">0.0</text>
<text font-size="34" font-weight="700" textLength="241.68" lengthAdjust="spacingAndGlyphs" transform="translate(103.8 1723.25) rotate(-90)">Alternation (%)</text>
<text font-size="33.84" textLength="160.91" lengthAdjust="spacingAndGlyphs" x="248.4" y="1372.2">p = 0.0923</text>
<line x1="264.3" y1="1389.4" x2="380.6" y2="1389.4" stroke="#000" stroke-width="4.4"/>
<circle cx="274.9" cy="1399.2" r="8.2" fill="#fe0000"/>
<circle cx="254.5" cy="1444.5" r="8.2" fill="#fe0000"/>
<circle cx="254.5" cy="1486.3" r="8.2" fill="#fe0000"/>
<circle cx="274.9" cy="1501.2" r="8.2" fill="#fe0000"/>
<circle cx="254.5" cy="1526.1" r="8.2" fill="#fe0000"/>
<circle cx="234.3" cy="1573.7" r="8.2" fill="#fe0000"/>
<circle cx="254.5" cy="1571" r="8.2" fill="#fe0000"/>
<circle cx="274.9" cy="1567.3" r="8.2" fill="#fe0000"/>
<circle cx="295.3" cy="1571" r="8.2" fill="#fe0000"/>
<circle cx="295.3" cy="1616.4" r="8.2" fill="#fe0000"/>
<circle cx="234.3" cy="1631.8" r="8.2" fill="#fe0000"/>
<circle cx="274.9" cy="1631.8" r="8.2" fill="#fe0000"/>
<line x1="226.1" y1="1543.5" x2="303.7" y2="1543.5" stroke="#fe0000" stroke-width="4.2"/>
<line x1="264.9" y1="1469.6" x2="264.9" y2="1617.6" stroke="#fe0000" stroke-width="2"/>
<line x1="245.5" y1="1469.6" x2="284.3" y2="1469.6" stroke="#fe0000" stroke-width="2"/>
<line x1="245.5" y1="1617.6" x2="284.3" y2="1617.6" stroke="#fe0000" stroke-width="2"/>
<rect x="372.9" y="1499.9" width="16.6" height="16.6" fill="#0000fe"/>
<rect x="372.9" y="1526.4" width="16.6" height="16.6" fill="#0000fe"/>
<rect x="342.3" y="1541.3" width="16.6" height="16.6" fill="#0000fe"/>
<rect x="372.9" y="1543.7" width="16.6" height="16.6" fill="#0000fe"/>
<rect x="342.3" y="1563.7" width="16.6" height="16.6" fill="#0000fe"/>
<rect x="372.9" y="1562.7" width="16.6" height="16.6" fill="#0000fe"/>
<rect x="372.9" y="1580.1" width="16.6" height="16.6" fill="#0000fe"/>
<rect x="342.3" y="1594.8" width="16.6" height="16.6" fill="#0000fe"/>
<rect x="372.9" y="1601.9" width="16.6" height="16.6" fill="#0000fe"/>
<rect x="372.9" y="1619.9" width="16.6" height="16.6" fill="#0000fe"/>
<rect x="403.3" y="1554.1" width="16.6" height="16.6" fill="#0000fe"/>
<rect x="403.3" y="1594.4" width="16.6" height="16.6" fill="#0000fe"/>
<line x1="342.2" y1="1574.1" x2="419.8" y2="1574.1" stroke="#0000fe" stroke-width="4.2"/>
<line x1="381" y1="1539" x2="381" y2="1608.4" stroke="#0000fe" stroke-width="2"/>
<line x1="361.6" y1="1539" x2="400.4" y2="1539" stroke="#0000fe" stroke-width="2"/>
<line x1="361.6" y1="1608.4" x2="400.4" y2="1608.4" stroke="#0000fe" stroke-width="2"/>
<text font-size="31.1" font-weight="700" text-anchor="end" transform="translate(274.3 1850.7) rotate(-45)">Rank 1</text>
<text font-size="31.1" font-weight="700" text-anchor="end" transform="translate(390.7 1850.7) rotate(-45)">Rank 4</text>
<text font-size="46.4" font-weight="700" textLength="26.85" lengthAdjust="spacingAndGlyphs" x="566.52" y="1373">h</text>
<line x1="694.5" y1="1413.8" x2="694.5" y2="1810.5" stroke="#000" stroke-width="4.2"/>
<line x1="677.8" y1="1808.5" x2="1286.1" y2="1808.5" stroke="#000" stroke-width="4.2"/>
<line x1="677.8" y1="1415.9" x2="694.5" y2="1415.9" stroke="#000" stroke-width="4.2"/>
<line x1="677.8" y1="1494.4" x2="694.5" y2="1494.4" stroke="#000" stroke-width="4.2"/>
<line x1="677.8" y1="1572.9" x2="694.5" y2="1572.9" stroke="#000" stroke-width="4.2"/>
<line x1="677.8" y1="1651.4" x2="694.5" y2="1651.4" stroke="#000" stroke-width="4.2"/>
<line x1="677.8" y1="1730" x2="694.5" y2="1730" stroke="#000" stroke-width="4.2"/>
<line x1="694.5" y1="1808.5" x2="694.5" y2="1825" stroke="#000" stroke-width="4.2"/>
<line x1="812.4" y1="1808.5" x2="812.4" y2="1825" stroke="#000" stroke-width="4.2"/>
<line x1="930.2" y1="1808.5" x2="930.2" y2="1825" stroke="#000" stroke-width="4.2"/>
<line x1="1048.2" y1="1808.5" x2="1048.2" y2="1825" stroke="#000" stroke-width="4.2"/>
<line x1="1166.1" y1="1808.5" x2="1166.1" y2="1825" stroke="#000" stroke-width="4.2"/>
<line x1="1284" y1="1808.5" x2="1284" y2="1825" stroke="#000" stroke-width="4.2"/>
<text font-size="30.8" font-weight="700" text-anchor="end" x="674.14" y="1427.3">1.0</text>
<text font-size="30.8" font-weight="700" text-anchor="end" x="673.83" y="1505.8">0.8</text>
<text font-size="30.8" font-weight="700" text-anchor="end" x="673.98" y="1584.3">0.6</text>
<text font-size="30.8" font-weight="700" text-anchor="end" x="673.06" y="1662.8">0.4</text>
<text font-size="30.8" font-weight="700" text-anchor="end" x="674.06" y="1741.4">0.2</text>
<text font-size="30.8" font-weight="700" text-anchor="end" x="674.14" y="1819.9">0.0</text>
<text font-size="30.8" font-weight="700" text-anchor="middle" x="694.52" y="1858.3">0</text>
<text font-size="30.8" font-weight="700" text-anchor="middle" x="811.88" y="1858.3">1</text>
<text font-size="30.8" font-weight="700" text-anchor="middle" x="930.26" y="1858.3">2</text>
<text font-size="30.8" font-weight="700" text-anchor="middle" x="1048.41" y="1858.3">3</text>
<text font-size="30.8" font-weight="700" text-anchor="middle" x="1165.96" y="1858.3">4</text>
<text font-size="30.8" font-weight="700" text-anchor="middle" x="1283.98" y="1858.3">5</text>
<text font-size="33" font-weight="700" textLength="233.9" lengthAdjust="spacingAndGlyphs" transform="translate(614.2 1729.82) rotate(-90)">Alternation (%)</text>
<line x1="812.4" y1="1550.2" x2="1166" y2="1581.2" stroke="#000" stroke-width="2"/>
<circle cx="812.4" cy="1415.9" r="8.1" fill="#fe0000"/>
<circle cx="812.4" cy="1459.8" r="8.1" fill="#fe0000"/>
<circle cx="812.4" cy="1500" r="8.1" fill="#fe0000"/>
<circle cx="812.4" cy="1514.5" r="8.1" fill="#fe0000"/>
<circle cx="812.4" cy="1538.8" r="8.1" fill="#fe0000"/>
<circle cx="812.4" cy="1577.6" r="8.1" fill="#fe0000"/>
<circle cx="812.4" cy="1584.7" r="8.1" fill="#fe0000"/>
<circle cx="812.4" cy="1625.2" r="8.1" fill="#fe0000"/>
<circle cx="812.4" cy="1640.2" r="8.1" fill="#fe0000"/>
<circle cx="930.2" cy="1415.9" r="8.1" fill="#ff8000"/>
<circle cx="930.2" cy="1462.2" r="8.1" fill="#ff8000"/>
<circle cx="930.2" cy="1494.5" r="8.1" fill="#ff8000"/>
<circle cx="930.2" cy="1509.8" r="8.1" fill="#ff8000"/>
<circle cx="930.2" cy="1521" r="8.1" fill="#ff8000"/>
<circle cx="930.2" cy="1536.5" r="8.1" fill="#ff8000"/>
<circle cx="930.2" cy="1556.3" r="8.1" fill="#ff8000"/>
<circle cx="930.2" cy="1619.2" r="8.1" fill="#ff8000"/>
<circle cx="930.2" cy="1626.5" r="8.1" fill="#ff8000"/>
<circle cx="930.2" cy="1632.7" r="8.1" fill="#ff8000"/>
<circle cx="930.2" cy="1638.4" r="8.1" fill="#ff8000"/>
<circle cx="1048.3" cy="1490.8" r="8.1" fill="#0b9962"/>
<circle cx="1048.3" cy="1528.2" r="8.1" fill="#0b9962"/>
<circle cx="1048.3" cy="1536.7" r="8.1" fill="#0b9962"/>
<circle cx="1048.3" cy="1565.9" r="8.1" fill="#0b9962"/>
<circle cx="1048.3" cy="1573.1" r="8.1" fill="#0b9962"/>
<circle cx="1048.3" cy="1589.8" r="8.1" fill="#0b9962"/>
<circle cx="1048.3" cy="1611.9" r="8.1" fill="#0b9962"/>
<circle cx="1048.3" cy="1620.8" r="8.1" fill="#0b9962"/>
<circle cx="1166.2" cy="1521" r="8.1" fill="#0000fe"/>
<circle cx="1166.2" cy="1546.9" r="8.1" fill="#0000fe"/>
<circle cx="1166.2" cy="1559.5" r="8.1" fill="#0000fe"/>
<circle cx="1166.2" cy="1564" r="8.1" fill="#0000fe"/>
<circle cx="1166.2" cy="1573.5" r="8.1" fill="#0000fe"/>
<circle cx="1166.2" cy="1582.7" r="8.1" fill="#0000fe"/>
<circle cx="1166.2" cy="1598.6" r="8.1" fill="#0000fe"/>
<circle cx="1166.2" cy="1612.4" r="8.1" fill="#0000fe"/>
<circle cx="1166.2" cy="1619.8" r="8.1" fill="#0000fe"/>
<circle cx="1166.2" cy="1636.5" r="8.1" fill="#0000fe"/>
<text font-size="33.36" textLength="141.24" lengthAdjust="spacingAndGlyphs" x="1128.13" y="1388.5">r = -0.114</text>
<text font-size="32.82" textLength="137.8" lengthAdjust="spacingAndGlyphs" x="1128.17" y="1425">p = 0.442</text>
<text font-size="32" font-weight="700" textLength="78.7" lengthAdjust="spacingAndGlyphs" x="949.43" y="1906.1">Rank</text>
</svg>
</body>
</html>
